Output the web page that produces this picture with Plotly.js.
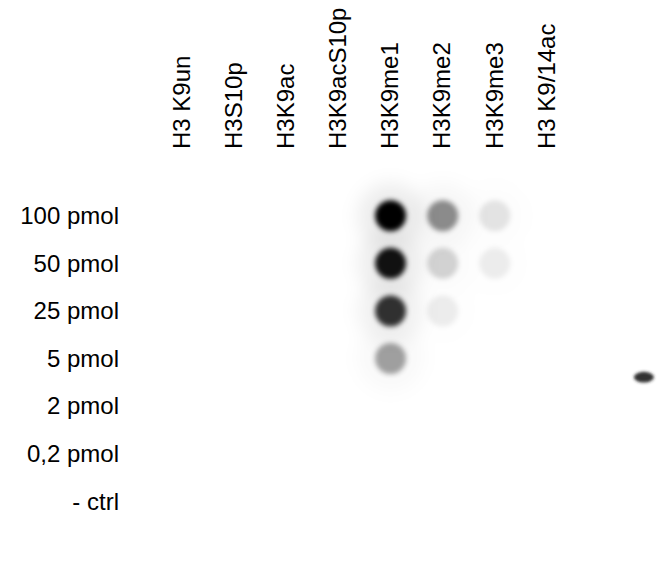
<!DOCTYPE html>
<html>
<head>
<meta charset="utf-8">
<script src="https://cdn.plot.ly/plotly-3.0.1.min.js"></script>
<style>
  html, body { margin: 0; padding: 0; background: #fff; }
  #blot { width: 659px; height: 564px; }
</style>
</head>
<body>
<div id="blot"></div>
<script>
// Dot blot: peptides (lanes) x amount spotted (rows)
const lanes = ['H3 K9un', 'H3S10p', 'H3K9ac', 'H3K9acS10p', 'H3K9me1', 'H3K9me2', 'H3K9me3', 'H3 K9/14ac'];
const amounts = ['100 pmol', '50 pmol', '25 pmol', '5 pmol', '2 pmol', '0,2 pmol', '- ctrl'];

// Spot darkness read from the film (0 = none, 1 = saturated), top row first
const sigK9un     = [0, 0, 0, 0, 0, 0, 0];
const sigS10p     = [0, 0, 0, 0, 0, 0, 0];
const sigK9ac     = [0, 0, 0, 0, 0, 0, 0];
const sigK9acS10p = [0, 0, 0, 0, 0, 0, 0];
const sigK9me1    = [1.0, 0.93, 0.8, 0.36, 0, 0, 0];
const sigK9me2    = [0.44, 0.17, 0.07, 0, 0, 0, 0];
const sigK9me3    = [0.1, 0.07, 0, 0, 0, 0, 0];
const sigK9_14ac  = [0, 0, 0, 0, 0, 0, 0];

const signals = [sigK9un, sigS10p, sigK9ac, sigK9acS10p, sigK9me1, sigK9me2, sigK9me3, sigK9_14ac];

// every position on the membrane, so all lanes and rows get a tick
const gridX = [], gridY = [];
lanes.forEach(l => amounts.forEach(a => { gridX.push(l); gridY.push(a); }));

// spots that gave a signal
const spotX = [], spotY = [], spotS = [];
signals.forEach((col, i) => col.forEach((s, j) => {
    if (s > 0) { spotX.push(lanes[i]); spotY.push(amounts[j]); spotS.push(s); }
}));

const spotColors = k => spotS.map(s => 'rgba(0,0,0,' + Math.min(1, s * k).toFixed(3) + ')');

const data = [
    {   // empty grid
        x: gridX, y: gridY,
        type: 'scatter', mode: 'markers',
        marker: { size: 1, opacity: 0 },
        hoverinfo: 'skip', showlegend: false
    },
    {   // background haze around strong spots
        x: spotX, y: spotY,
        type: 'scatter', mode: 'markers', cliponaxis: false,
        marker: { size: 66, color: spotColors(0.07), line: { width: 0 } },
        hoverinfo: 'skip', showlegend: false
    },
    {   // the spots
        x: spotX, y: spotY,
        type: 'scatter', mode: 'markers', cliponaxis: false,
        marker: { size: 31, color: spotColors(1), line: { width: 0 } },
        hoverinfo: 'skip', showlegend: false
    }
];

const tickFont = { family: 'Liberation Sans, Arial, sans-serif', size: 24, color: '#000' };

const layout = {
    width: 659,
    height: 564,
    margin: { l: 156, r: 86, t: 192, b: 39 },
    paper_bgcolor: '#fff',
    plot_bgcolor: '#fff',
    showlegend: false,
    xaxis: {
        type: 'category',
        categoryorder: 'array',
        categoryarray: lanes,
        range: [-0.5, lanes.length - 0.5],
        side: 'top',
        tickangle: -90,
        tickfont: tickFont,
        ticklabelstandoff: 42,
        showgrid: false, zeroline: false, showline: false, ticks: ''
    },
    yaxis: {
        type: 'category',
        categoryorder: 'array',
        categoryarray: amounts,
        range: [amounts.length - 0.5, -0.5],
        tickfont: tickFont,
        ticklabelstandoff: 36,
        showgrid: false, zeroline: false, showline: false, ticks: ''
    },
    // small smudge on the membrane at the right edge
    shapes: [
        { type: 'circle', xref: 'paper', yref: 'paper', x0: 1.146, x1: 1.194, y0: 0.428, y1: 0.46,
          fillcolor: 'rgba(40,40,40,0.95)', line: { width: 0 } }
    ]
};

// blur the film: plain svg gaussian filters on the marker groups
function addBlur(gd) {
    const ns = 'http://www.w3.org/2000/svg';
    const svg = gd.querySelector('svg.main-svg');
    let defs = svg.querySelector('defs');
    if (!defs) { defs = document.createElementNS(ns, 'defs'); svg.insertBefore(defs, svg.firstChild); }
    [['blur-soft', 2.8], ['blur-haze', 9], ['blur-smudge', 1.6]].forEach(([id, sd]) => {
        const f = document.createElementNS(ns, 'filter');
        f.setAttribute('id', id);
        f.setAttribute('x', '-100%'); f.setAttribute('y', '-100%');
        f.setAttribute('width', '300%'); f.setAttribute('height', '300%');
        const g = document.createElementNS(ns, 'feGaussianBlur');
        g.setAttribute('stdDeviation', sd);
        f.appendChild(g);
        defs.appendChild(f);
    });
    const traces = gd.querySelectorAll('.scatterlayer .trace');
    traces[1].setAttribute('filter', 'url(#blur-haze)');
    traces[2].setAttribute('filter', 'url(#blur-soft)');
    gd.querySelectorAll('.shapelayer path').forEach(p => p.setAttribute('filter', 'url(#blur-smudge)'));
}

Plotly.newPlot('blot', data, layout, { displayModeBar: false, staticPlot: true }).then(addBlur);
</script>
</body>
</html>
